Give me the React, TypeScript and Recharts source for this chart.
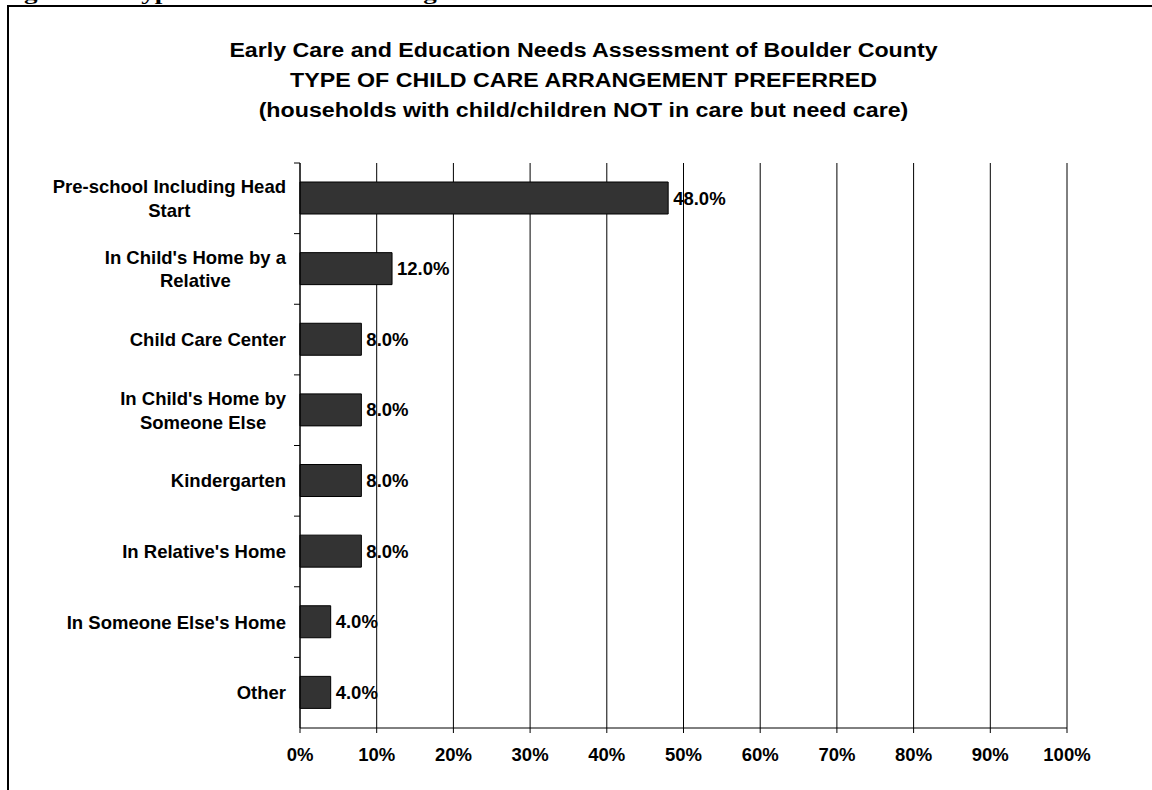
import React from 'react';
import { BarChart, Bar, XAxis, YAxis, CartesianGrid, LabelList } from 'recharts';

const categories = [
  'Pre-school Including Head Start',
  "In Child's Home by a Relative",
  'Child Care Center',
  "In Child's Home by Someone Else",
  'Kindergarten',
  "In Relative's Home",
  "In Someone Else's Home",
  'Other',
];
const shares = [48, 12, 8, 8, 8, 8, 4, 4];
const xTicks = [0, 10, 20, 30, 40, 50, 60, 70, 80, 90, 100];
const titleLines = [
  'Early Care and Education Needs Assessment of Boulder County',
  'TYPE OF CHILD CARE ARRANGEMENT PREFERRED',
  '(households with child/children NOT in care but need care)',
];
const caption = 'Figure 37: Type of Child Care Arrangement Preferred Children NOT in Care but Need Care';

const data = categories.map((name, i) => ({ name, value: shares[i] }));

const W = 1152;
const H = 790;
const TOP = 163;
const BOTTOM = 62;
const LEFT = 300;
const RIGHT = 85;
const FONT = 'Arial, "Liberation Sans", Helvetica, sans-serif';
const LABEL_SIZE = 18.5;
const bandH = (H - TOP - BOTTOM) / categories.length;

let ctx: CanvasRenderingContext2D | null = null;
const measure = (s: string) => {
  if (!ctx) ctx = document.createElement('canvas').getContext('2d');
  if (!ctx) return s.length * 10;
  ctx.font = `bold ${LABEL_SIZE}px ${FONT}`;
  return ctx.measureText(s).width;
};

// greedy wrap like Excel does for long category names
const wrap = (s: string, max: number) => {
  const words = s.split(' ');
  const lines: string[] = [];
  let cur = '';
  words.forEach((w) => {
    const t = cur ? cur + ' ' + w : w;
    if (cur && measure(t) > max) {
      lines.push(cur);
      cur = w;
    } else cur = t;
  });
  if (cur) lines.push(cur);
  return lines;
};

const CategoryTick = (props: any) => {
  const { x, y, payload, index } = props;
  const lines = wrap(payload.value, 250);
  const block = Math.max(...lines.map(measure));
  const cx = x - block / 2;
  const lh = 23.8;
  const y0 = y - ((lines.length - 1) * lh) / 2;
  const axisX = x + 14;
  return (
    <g>
      {index === 0 && <line x1={axisX - 6} x2={axisX} y1={y - bandH / 2} y2={y - bandH / 2} stroke="#000" />}
      {index < categories.length - 1 && (
        <line x1={axisX - 6} x2={axisX} y1={y + bandH / 2} y2={y + bandH / 2} stroke="#000" />
      )}
      {lines.map((l, i) => (
        <text
          key={i}
          x={cx}
          y={y0 + i * lh}
          dy="0.36em"
          textAnchor="middle"
          fontFamily={FONT}
          fontWeight="bold"
          fontSize={LABEL_SIZE}
          fill="#000"
        >
          {l}
        </text>
      ))}
    </g>
  );
};

export default function App() {
  return (
    <div style={{ position: 'relative', width: W, height: H, overflow: 'hidden', background: '#fff' }}>
      <style>{'body{margin:0;}'}</style>
      <svg width={W} height={12} style={{ position: 'absolute', left: 0, top: 0 }}>
        <text x={0} y={0} fontFamily='"Times New Roman", "Liberation Serif", serif' fontWeight="bold" fontSize={19}
          textLength={1068} lengthAdjust="spacingAndGlyphs" fill="#000">
          {caption}
        </text>
      </svg>
      <div
        style={{
          position: 'absolute',
          left: 7,
          top: 5,
          width: W + 40,
          height: H + 40,
          border: '2px solid #000',
          boxSizing: 'border-box',
        }}
      />
      <div
        style={{
          position: 'absolute',
          left: 0,
          top: 34.5,
          width: W,
          textAlign: 'center',
          fontFamily: FONT,
          fontWeight: 'bold',
          fontSize: 20,
          lineHeight: '30px',
          color: '#000',
          paddingLeft: 15,
          boxSizing: 'border-box',
          transform: 'scaleX(1.16)',
          transformOrigin: '583.5px 0',
        }}
      >
        {titleLines.map((t) => (
          <div key={t}>{t}</div>
        ))}
      </div>
      <div style={{ position: 'absolute', left: 0, top: 0 }}>
        <BarChart
          width={W}
          height={H}
          data={data}
          layout="vertical"
          margin={{ top: TOP, right: RIGHT, bottom: 2, left: 0 }}
          barSize={32}
        >
          <CartesianGrid horizontal={false} stroke="#000" strokeWidth={1} />
          <XAxis
            type="number"
            domain={[0, 100]}
            ticks={xTicks}
            interval={0}
            height={BOTTOM - 2}
            tickFormatter={(v: number) => `${v}%`}
            axisLine={{ stroke: '#000' }}
            tickLine={{ stroke: '#000' }}
            tickSize={5}
            tickMargin={15}
            tick={{ fill: '#000', fontFamily: FONT, fontWeight: 'bold', fontSize: LABEL_SIZE }}
          />
          <YAxis
            type="category"
            dataKey="name"
            width={LEFT}
            interval={0}
            axisLine={{ stroke: '#000' }}
            tickLine={false}
            tickSize={0}
            tickMargin={14}
            tick={<CategoryTick />}
          />
          <Bar dataKey="value" fill="#333333" stroke="#000" strokeWidth={1} isAnimationActive={false}>
            <LabelList
              dataKey="value"
              position="right"
              offset={5}
              formatter={(v: any) => `${Number(v).toFixed(1)}%`}
              fill="#000"
              fontFamily={FONT}
              fontWeight="bold"
              fontSize={LABEL_SIZE}
            />
          </Bar>
        </BarChart>
      </div>
    </div>
  );
}
